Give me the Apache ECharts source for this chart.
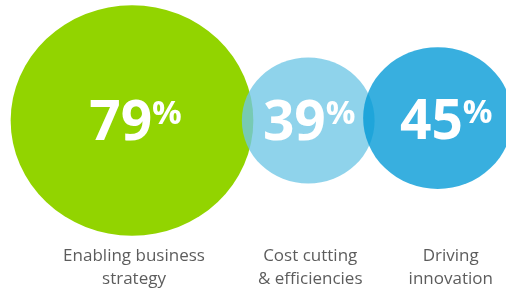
<!DOCTYPE html>
<html><head><meta charset="utf-8">
<script src="https://cdn.jsdelivr.net/npm/echarts@6/dist/echarts.min.js"></script>
<style>html,body{margin:0;padding:0;background:#fff}#c{width:506px;height:293px}</style>
</head><body><div id="c"></div>
<script>
// ---- data ----
const categories = ['Enabling business\nstrategy', 'Cost cutting\n& efficiencies', 'Driving\ninnovation'];
const values = [79, 39, 45];
const colors = ['#92d400', 'rgba(111,199,229,0.78)', 'rgba(0,152,214,0.78)'];

// ---- layout ----
const W = 506, H = 293;
const sizeH = v => 2.61 * v + 24.3;
const sizeW = v => sizeH(v) * 1.053;
const startX = 132, overlap = 11.5;
const cy = [120.5, 120.5, 118];
const numOff = [3.5, 1, 8.5];
const catOff = [2, 2, 13];
const labelY = 268;

const cx = [];
values.forEach((v, i) => {
  if (i === 0) cx.push(startX);
  else cx.push(cx[i - 1] + sizeW(values[i - 1]) / 2 + sizeW(v) / 2 - overlap);
});

const chart = echarts.init(document.getElementById('c'), null, {renderer: 'canvas'});
chart.setOption({
  animation: false,
  grid: {left: 0, right: 0, top: 0, bottom: 0},
  xAxis: {type: 'value', min: 0, max: W, show: false},
  yAxis: {type: 'value', min: 0, max: H, inverse: true, show: false},
  series: [
    {
      type: 'scatter',
      clip: false,
      silent: true,
      symbol: 'circle',
      symbolSize: val => [sizeW(val[2]), sizeH(val[2])],
      data: values.map((v, i) => ({
        value: [cx[i], cy[i], v],
        itemStyle: {color: colors[i], opacity: 1},
        label: {offset: [numOff[i], cy[i] === 118 ? 5 : 4]}
      })),
      label: {
        show: true,
        position: 'inside',
        formatter: p => '{n|' + p.value[2] + '}{p|%}',
        rich: {
          n: {fontSize: 55, fontWeight: 'bold', color: '#fff', fontFamily: 'Open Sans', lineHeight: 60},
          p: {fontSize: 33, fontWeight: 'bold', color: '#fff', fontFamily: 'Open Sans', lineHeight: 36, padding: [4, 0, 0, 0], verticalAlign: 'top'}
        }
      }
    },
    {
      type: 'scatter',
      clip: false,
      silent: true,
      symbolSize: 1,
      itemStyle: {color: 'rgba(0,0,0,0)'},
      data: categories.map((c, i) => ({
        value: [cx[i] + catOff[i], labelY],
        name: c
      })),
      label: {
        show: true,
        position: 'inside',
        formatter: p => p.name,
        fontFamily: 'Open Sans',
        fontSize: 17,
        lineHeight: 23,
        color: '#333333',
        align: 'center'
      }
    }
  ]
});
</script>
</body></html>
